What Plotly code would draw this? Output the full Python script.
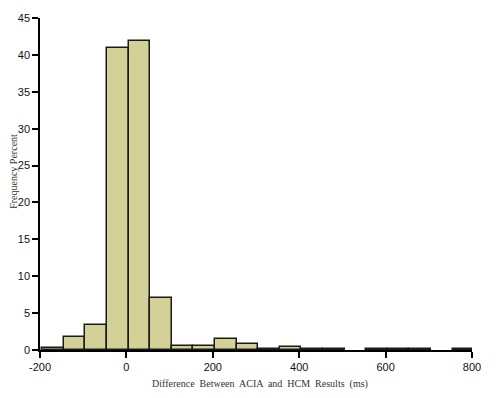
import plotly.graph_objects as go

bin_start = -195
bin_width = 50
percent = [0.3, 1.75, 3.4, 41.0, 41.9, 7.1, 0.6, 0.6, 1.5, 0.75,
           0.2, 0.45, 0.15, 0.15, 0.0, 0.1, 0.1, 0.1, 0.0, 0.1]
x_ticks = [-200, 0, 200, 400, 600, 800]
y_ticks = [0, 5, 10, 15, 20, 25, 30, 35, 40, 45]

centers = [bin_start + bin_width * (i + 0.5) for i in range(len(percent))]
heights = [v if v > 0 else None for v in percent]

fig = go.Figure()
fig.add_trace(go.Bar(
    x=centers, y=heights, width=[bin_width] * len(percent),
    marker=dict(color="#d3d197", line=dict(color="#1a1a1a", width=1.5)),
    hoverinfo="skip",
))

tick_font = dict(family="Liberation Sans, Arial", size=11, color="#111")
title_font = dict(family="Liberation Serif, Times New Roman", size=10, color="#333")

# page has an 8px body margin; margins compensate so the plot lands at 40..472 x 18..350
fig.update_layout(
    width=500, height=398,
    margin=dict(l=32, r=36, t=10, b=56),
    paper_bgcolor="white", plot_bgcolor="white",
    showlegend=False,
    bargap=0,
    xaxis=dict(
        range=[-200, 800], tickvals=x_ticks, ticktext=[str(v) for v in x_ticks],
        showgrid=False, zeroline=False, showline=True, linecolor="#000", linewidth=1.5,
        ticks="outside", ticklen=6, tickwidth=1.5, tickcolor="#000",
        tickfont=tick_font, automargin=False,
    ),
    yaxis=dict(
        range=[0, 45], tickvals=y_ticks,
        showgrid=False, zeroline=False, showline=True, linecolor="#000", linewidth=1.5,
        ticks="outside", ticklen=6, tickwidth=1.5, tickcolor="#000",
        tickfont=tick_font, automargin=False,
    ),
    annotations=[
        dict(text="Difference  Between  ACIA  and  HCM  Results  (ms)",
             xref="paper", yref="paper", x=0.509, y=-0.078, yanchor="top",
             showarrow=False, font=title_font),
        dict(text="Frequency Percent", textangle=-90,
             xref="paper", yref="paper", x=-0.063, xanchor="center", y=0.539,
             showarrow=False, font=title_font),
    ],
)

fig.write_html("out.html")
